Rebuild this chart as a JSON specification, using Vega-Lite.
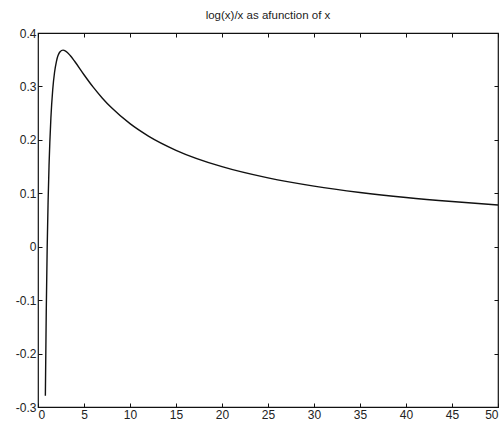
{
  "$schema": "https://vega.github.io/schema/vega-lite/v6.json",
  "width": 460,
  "height": 374,
  "autosize": {"type": "none"},
  "padding": {"left": 38, "top": 33, "right": 2, "bottom": 21},
  "background": "white",
  "title": {"text": "log(x)/x as afunction of x", "font": "Liberation Sans", "fontSize": 11.5, "fontWeight": "normal", "color": "#222", "offset": 6, "anchor": "middle"},
  "config": {
    "view": {"stroke": "#111", "strokeWidth": 1.2},
    "axis": {"grid": false, "domain": false, "tickColor": "#111", "tickSize": -4, "labelFont": "Liberation Sans", "labelFontSize": 12, "labelColor": "#222", "title": null}
  },
  "data": {"values": [
    {"x": 0.8, "y": -0.2789}, {"x": 0.9, "y": -0.1171}, {"x": 1, "y": 0}, {"x": 1.1, "y": 0.0866},
    {"x": 1.2, "y": 0.1519}, {"x": 1.4, "y": 0.2403}, {"x": 1.6, "y": 0.2938}, {"x": 1.8, "y": 0.3265},
    {"x": 2, "y": 0.3466}, {"x": 2.4, "y": 0.3648}, {"x": 2.718, "y": 0.3679}, {"x": 3, "y": 0.3662},
    {"x": 3.5, "y": 0.3579}, {"x": 4, "y": 0.3466}, {"x": 5, "y": 0.3219}, {"x": 6, "y": 0.2986},
    {"x": 7, "y": 0.278}, {"x": 8, "y": 0.2599}, {"x": 10, "y": 0.2303}, {"x": 12, "y": 0.2071},
    {"x": 15, "y": 0.1805}, {"x": 20, "y": 0.1498}, {"x": 25, "y": 0.1288}, {"x": 30, "y": 0.1134},
    {"x": 35, "y": 0.1016}, {"x": 40, "y": 0.0922}, {"x": 45, "y": 0.0846}, {"x": 50, "y": 0.0782}
  ]},
  "layer": [
    {
      "mark": {"type": "line", "color": "#111", "strokeWidth": 1.4, "interpolate": "monotone", "clip": true},
      "encoding": {
        "x": {"field": "x", "type": "quantitative", "scale": {"domain": [0, 50], "nice": false, "zero": false}, "axis": {"orient": "bottom", "values": [0, 5, 10, 15, 20, 25, 30, 35, 40, 45, 50], "labelPadding": 6}},
        "y": {"field": "y", "type": "quantitative", "scale": {"domain": [-0.3, 0.4], "nice": false, "zero": false}, "axis": {"orient": "left", "values": [-0.3, -0.2, -0.1, 0, 0.1, 0.2, 0.3, 0.4], "format": "~g", "labelExpr": "replace(datum.label, '−', '-')", "labelPadding": 6}}
      }
    },
    {
      "mark": {"type": "line", "opacity": 0},
      "encoding": {
        "x": {"field": "x", "type": "quantitative", "scale": {"domain": [0, 50], "nice": false, "zero": false}, "axis": {"orient": "top", "values": [0, 5, 10, 15, 20, 25, 30, 35, 40, 45, 50], "labels": false}},
        "y": {"field": "y", "type": "quantitative", "scale": {"domain": [-0.3, 0.4], "nice": false, "zero": false}, "axis": {"orient": "right", "values": [-0.3, -0.2, -0.1, 0, 0.1, 0.2, 0.3, 0.4], "labels": false}}
      }
    }
  ],
  "resolve": {"axis": {"x": "independent", "y": "independent"}}
}
